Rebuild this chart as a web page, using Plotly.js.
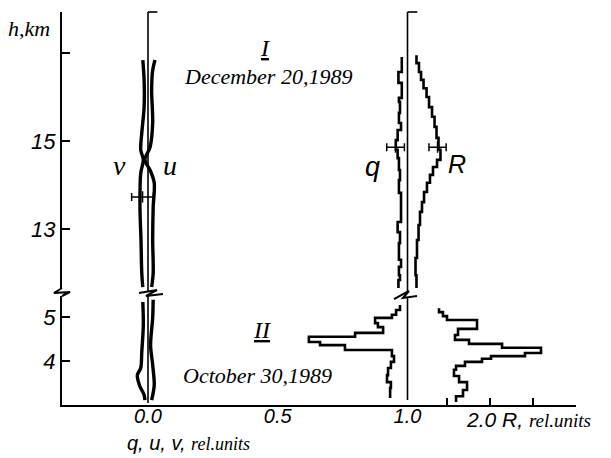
<!DOCTYPE html>
<html><head><meta charset="utf-8">
<script src="https://cdn.plot.ly/plotly-3.0.1.min.js"></script>
<style>body{margin:0;background:#fff}#chart{width:611px;height:458px}</style>
</head><body><div id="chart"></div>
<script>
// ---- Upper panel (I, December 20, 1989): heights in km ----
const vUpH = [16.84, 16.39, 15.77, 15.18, 14.80, 14.57, 14.27, 13.50, 12.75, 12.00, 11.68];
const vUp  = [-0.020, -0.015, -0.015, -0.024, -0.028, -0.018, -0.028, -0.031, -0.027, -0.024, -0.020];
const uUpH = [16.84, 16.61, 16.16, 15.41, 14.86, 14.57, 14.34, 14.05, 13.50, 12.75, 12.00, 11.68];
const uUp  = [0.027, 0.018, 0.014, 0.018, 0.008, -0.012, 0.008, 0.024, 0.020, 0.018, 0.020, 0.014];
const qUpEdges = [16.91, 16.57, 16.32, 15.98, 15.89, 15.64, 15.41, 15.25, 15.02, 14.80, 14.61, 14.34, 14.11, 13.82, 13.16, 12.93, 12.68, 12.30, 12.14, 11.95, 11.84, 11.66];
const qUp  = [0.978, 0.965, 0.978, 0.967, 0.971, 0.967, 0.975, 0.962, 0.955, 0.962, 0.967, 0.971, 0.967, 0.975, 0.962, 0.971, 0.967, 0.975, 0.967, 0.971, 0.965];
const RUpEdges = [16.95, 16.77, 16.57, 16.39, 16.20, 16.00, 15.77, 15.55, 15.32, 15.07, 14.80, 14.57, 14.41, 14.23, 14.05, 13.84, 13.61, 13.39, 13.09, 12.75, 12.34, 11.95, 11.66];
const RUp  = [1.145, 1.174, 1.198, 1.227, 1.262, 1.291, 1.326, 1.355, 1.378, 1.401, 1.424, 1.384, 1.337, 1.302, 1.267, 1.233, 1.209, 1.186, 1.169, 1.151, 1.134, 1.145];
// error bars (upper panel)
const errVH = [13.73], errV = [-0.021], errVE = [0.042];
const errQH = [14.86], errQ = [0.954], errQE = [0.034];
const errRH = [14.86], errR = [1.39],  errRE = [0.10];

// ---- Lower panel (II, October 30, 1989) ----
const vLowH = [5.34, 4.82, 4.20, 3.84, 3.68, 3.45, 3.23, 3.11];
const vLow  = [-0.020, -0.018, -0.024, -0.028, -0.041, -0.033, -0.015, -0.012];
const uLowH = [5.39, 4.98, 4.36, 3.91, 3.45, 3.11];
const uLow  = [0.020, 0.018, 0.010, 0.018, 0.024, 0.014];
const qLowEdges = [5.27, 5.16, 5.05, 4.98, 4.86, 4.77, 4.64, 4.55, 4.43, 4.36, 4.25, 4.11, 3.98, 3.84, 3.68, 3.52, 3.39, 3.16];
const qLow  = [0.971, 0.956, 0.940, 0.875, 0.886, 0.906, 0.798, 0.620, 0.663, 0.759, 0.940, 0.948, 0.936, 0.925, 0.921, 0.936, 0.933];
const RLowEdges = [5.20, 5.11, 5.02, 4.93, 4.73, 4.59, 4.48, 4.39, 4.30, 4.18, 4.11, 4.05, 3.98, 3.89, 3.80, 3.66, 3.52, 3.34, 3.20, 3.07];
const RLow  = [1.407, 1.453, 1.500, 1.849, 1.628, 1.593, 1.756, 2.140, 2.593, 2.407, 2.012, 1.907, 1.709, 1.605, 1.581, 1.640, 1.733, 1.686, 1.605];

// ---- axis ticks ----
const qTickVals = [0, 0.5, 1.0], qTickText = ['0.0', '0.5', '1.0'];
const RTickVals = [1.5, 2.0, 2.5, 3.0];
const hUpTicks = [13, 15, 17, 17.92], hUpText = ['13', '15', '', ''];
const hLowTicks = [4, 5], hLowText = ['4', '5'];

const BLACK = '#000';
const TICKFONT = {family: 'Liberation Sans Narrow, Liberation Sans, Arial, sans-serif', size: 22, style: 'italic', color: BLACK};
const XTICKFONT = {family: 'Liberation Sans Narrow, Liberation Sans, Arial, sans-serif', size: 20, style: 'italic', color: BLACK};
const SERIF = 'Liberation Serif, Times New Roman, serif';
const SANS = 'Liberation Sans, Arial, sans-serif';

function steps(edges, vals) {
  return {x: vals.concat([vals[vals.length - 1]]), y: edges.slice()};
}
function stairTrace(edges, vals, xa, ya) {
  const s = steps(edges, vals);
  return {type: 'scatter', mode: 'lines', x: s.x, y: s.y, xaxis: xa, yaxis: ya,
    line: {color: BLACK, width: 2.6, shape: 'vh'}, hoverinfo: 'skip'};
}
function curve(x, y, ya) {
  return {type: 'scatter', mode: 'lines', x: x, y: y, xaxis: 'x', yaxis: ya,
    line: {color: BLACK, width: 3.4, shape: 'spline', smoothing: 0.9}, hoverinfo: 'skip'};
}
function errTrace(x, y, e, xa) {
  return {type: 'scatter', mode: 'markers', x: x, y: y, xaxis: xa, yaxis: 'y',
    marker: {symbol: 'line-ns', size: 8, color: BLACK, line: {color: BLACK, width: 1.5}},
    error_x: {type: 'data', array: e, visible: true, color: BLACK, thickness: 1.5, width: 4},
    hoverinfo: 'skip', cliponaxis: false};
}

const traces = [
  curve(vUp, vUpH, 'y'), curve(uUp, uUpH, 'y'),
  curve(vLow, vLowH, 'y2'), curve(uLow, uLowH, 'y2'),
  stairTrace(qUpEdges, qUp, 'x', 'y'),
  stairTrace(RUpEdges, RUp, 'x2', 'y'),
  stairTrace(qLowEdges, qLow, 'x', 'y2'),
  stairTrace(RLowEdges, RLow, 'x2', 'y2'),
  errTrace(errV, errVH, errVE, 'x'),
  errTrace(errQ, errQH, errQE, 'x'),
  errTrace(errR, errRH, errRE, 'x2')
];

// pixel -> paper helpers for decorations (plot area: x 62..576, y 12..405)
const X = p => (p - 62) / 514;
const Y = p => (405 - p) / 393;
function path(pts) { return pts.map((p, i) => (i ? 'L' : 'M') + X(p[0]).toFixed(4) + ',' + Y(p[1]).toFixed(4)).join(' '); }

const thin = {color: BLACK, width: 1.6};
const shapes = [
  // reference lines q=0 and q=1 (both panels)
  {type: 'line', xref: 'x', yref: 'paper', x0: 0, x1: 0, y0: Y(291), y1: 1, line: thin},
  {type: 'line', xref: 'x', yref: 'paper', x0: 0, x1: 0.036, y0: 1, y1: 1, line: thin},
  {type: 'line', xref: 'x', yref: 'paper', x0: 0, x1: 0, y0: Y(403), y1: Y(296), line: thin},
  {type: 'line', xref: 'x', yref: 'paper', x0: 1, x1: 1, y0: Y(292), y1: 1, line: thin},
  {type: 'line', xref: 'x', yref: 'paper', x0: 1, x1: 1.038, y0: 1, y1: 1, line: thin},
  {type: 'line', xref: 'x', yref: 'paper', x0: 1, x1: 1, y0: Y(400), y1: Y(298), line: thin},
  // axis break marks
  {type: 'path', xref: 'paper', yref: 'paper', path: path([[62, 288], [54, 293], [70, 292], [62, 296]]), line: {color: BLACK, width: 2}},
  {type: 'path', xref: 'paper', yref: 'paper', path: path([[139, 293], [157, 290], [146, 296], [163, 294]]), line: {color: BLACK, width: 2}},
  {type: 'path', xref: 'paper', yref: 'paper', path: path([[394, 299], [409, 291], [403, 298], [417, 296]]), line: {color: BLACK, width: 2}}
];

function ann(text, px, py, size, family, xanchor, yanchor) {
  return {xref: 'paper', yref: 'paper', x: X(px), y: Y(py), text: text, showarrow: false,
    xanchor: xanchor || 'center', yanchor: yanchor || 'middle', borderpad: 0,
    font: {family: family, size: size, style: 'italic', color: BLACK}};
}
const annotations = [
  ann('h,km', 7, 28, 22, SERIF, 'left'),
  ann('<u>I</u>', 265, 48, 24, SERIF),
  ann('December 20,1989', 268, 77, 22, SERIF),
  ann('<u>II</u>', 262, 330, 24, SERIF),
  ann('October 30,1989', 257, 375, 22, SERIF),
  ann('v', 119, 165, 28, SERIF),
  ann('u', 170, 166, 28, SERIF),
  ann('q', 372, 167, 27, SANS),
  ann('R', 457, 164, 25, SANS),
  ann('q, u, v, <span style="font-family:Liberation Serif;font-size:18px">rel.units</span>', 126, 443, 20, SANS, 'left'),
  ann('2.0 R, <span style="font-family:Liberation Serif;font-size:19px">rel.units</span>', 465, 419, 21, SANS, 'left')
];

const layout = {
  width: 611, height: 458,
  margin: {l: 62, r: 35, t: 12, b: 53, pad: 0},
  paper_bgcolor: '#fff', plot_bgcolor: '#fff',
  showlegend: false,
  xaxis: {range: [-0.3314, 1.6493], anchor: 'y2', showline: true, linecolor: BLACK, linewidth: 2,
    ticks: '', tickvals: qTickVals, ticktext: qTickText, tickfont: XTICKFONT, ticklabelstandoff: -8,
    showgrid: false, zeroline: false, fixedrange: true},
  xaxis2: {range: [-2.977, 3.0], overlaying: 'x', anchor: 'y2', side: 'bottom', showline: false,
    ticks: 'inside', tickvals: RTickVals, ticklen: 7, tickwidth: 2, tickcolor: BLACK,
    showticklabels: false, showgrid: false, zeroline: false, fixedrange: true},
  yaxis: {domain: [Y(288), 1], range: [11.659, 17.932], anchor: 'x', showline: true, linecolor: BLACK, linewidth: 2,
    ticks: 'inside', tickvals: hUpTicks, ticktext: hUpText, ticklen: 8, tickwidth: 2, tickcolor: BLACK,
    tickfont: TICKFONT, showgrid: false, zeroline: false, fixedrange: true},
  yaxis2: {domain: [0, Y(296)], range: [3.0, 5.477], anchor: 'x', showline: true, linecolor: BLACK, linewidth: 2,
    ticks: 'inside', tickvals: hLowTicks, ticktext: hLowText, ticklen: 8, tickwidth: 2, tickcolor: BLACK,
    tickfont: TICKFONT, showgrid: false, zeroline: false, fixedrange: true},
  shapes: shapes,
  annotations: annotations
};

Plotly.newPlot('chart', traces, layout, {displayModeBar: false, staticPlot: true});
</script>
</body></html>
